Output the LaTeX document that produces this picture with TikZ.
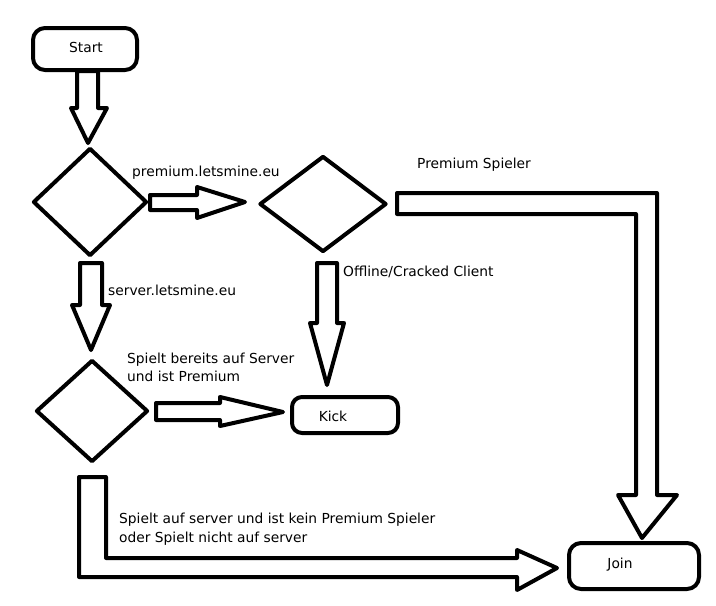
\documentclass[tikz,border=0pt]{standalone}
\usepackage{fontspec}
\setmainfont{DejaVu Sans}
\usetikzlibrary{shapes.geometric}
\begin{document}
\begin{tikzpicture}[x=1pt,y=-1pt,
  thick line/.style={line width=4pt,line join=round},
  term/.style={thick line,draw,rectangle,rounded corners=12pt,inner sep=0pt},
  decision/.style={thick line,draw,diamond,inner sep=0pt},
  blockarrow/.style={thick line,draw,fill=white},
  lbl/.style={anchor=west,inner sep=0pt,align=left,font=\fontsize{13.8}{18.5}\selectfont},
  ttl/.style={font=\fontsize{13.8}{15}\selectfont}]
\useasboundingbox (0,0) rectangle (716,606);
% nodes
\node[term,minimum width=104pt,minimum height=42pt] (start) at (85,49) {};
\node[ttl] (starttxt) at (86,47) {Start};
\node[decision,minimum width=114pt,minimum height=108pt] (d1) at (90,202) {};
\node[decision,minimum width=127pt,minimum height=96pt] (d2) at (323,204) {};
\node[decision,minimum width=112pt,minimum height=102pt] (d3) at (92,411) {};
\node[term,minimum width=106pt,minimum height=36pt,rounded corners=10pt] (kick) at (345,415) {};
\node[ttl] (kicktxt) at (333,416) {Kick};
\node[term,minimum width=130pt,minimum height=46pt,rounded corners=12pt] (join) at (634,566) {};
\node[ttl] (jointxt) at (620,565) {Join};
% block arrows
\draw[blockarrow] (77,71) -- (98,71) -- (98,108) -- (107,108) -- (88,143) -- (71,108) -- (77,108) -- cycle;
\draw[blockarrow] (150,195) -- (197,195) -- (197,187) -- (245,202) -- (197,218) -- (197,210) -- (150,210) -- cycle;
\draw[blockarrow] (397,193) -- (657,193) -- (657,495) -- (677,495) -- (642,538) -- (618,495) -- (636,495) -- (636,214) -- (397,214) -- cycle;
\draw[blockarrow] (317,263) -- (337,263) -- (337,323) -- (344,323) -- (327,385) -- (310,323) -- (317,323) -- cycle;
\draw[blockarrow] (80,263) -- (102,263) -- (102,305) -- (110,305) -- (91,350) -- (72,305) -- (80,305) -- cycle;
\draw[blockarrow] (156,403) -- (220,403) -- (220,397) -- (283,412) -- (220,426) -- (220,420) -- (156,420) -- cycle;
\draw[blockarrow] (79,477) -- (106,477) -- (106,558) -- (517,558) -- (517,550) -- (557,568) -- (517,590) -- (517,577) -- (79,577) -- cycle;
% labels
\node[lbl] (l1) at (132,173) {premium.letsmine.eu};
\node[lbl] (l2) at (417,165) {Premium Spieler};
\node[lbl] (l3) at (343,272) {Offline/Cracked Client};
\node[lbl] (l4) at (108,290) {server.letsmine.eu};
\node[lbl] (l5) at (127,367.5) {Spielt bereits auf Server\\und ist Premium};
\node[lbl] (l6) at (119,529) {Spielt auf server und ist kein Premium Spieler\\oder Spielt nicht auf server};
\end{tikzpicture}
\end{document}
